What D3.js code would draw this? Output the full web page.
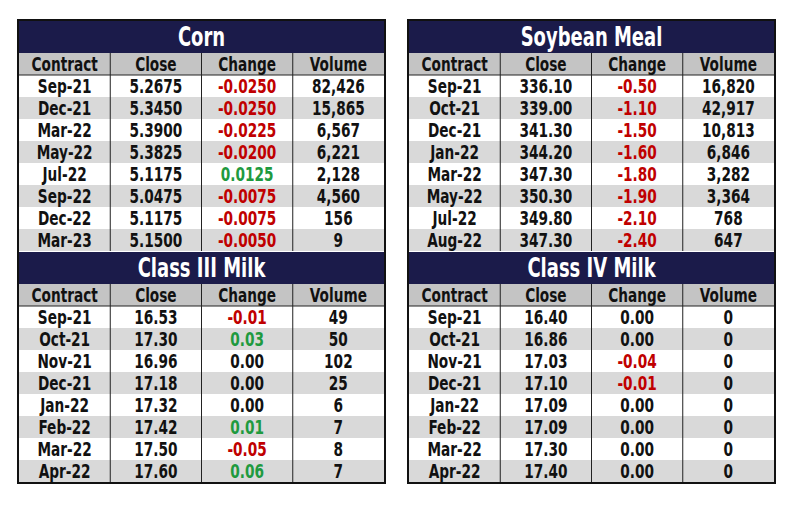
<!DOCTYPE html>
<html><head><meta charset="utf-8">
<script src="https://cdn.jsdelivr.net/npm/d3@7"></script>
<style>body{margin:0;background:#fff}text{font-family:"DejaVu Sans Condensed","DejaVu Sans",sans-serif;font-weight:bold}</style>
</head><body>
<svg width="793" height="505"></svg>
<script>
const columns = ["Contract", "Close", "Change", "Volume"];

const cornContracts = ["Sep-21","Dec-21","Mar-22","May-22","Jul-22","Sep-22","Dec-22","Mar-23"];
const cornClose = ["5.2675","5.3450","5.3900","5.3825","5.1175","5.0475","5.1175","5.1500"];
const cornChange = ["-0.0250","-0.0250","-0.0225","-0.0200","0.0125","-0.0075","-0.0075","-0.0050"];
const cornVolume = ["82,426","15,865","6,567","6,221","2,128","4,560","156","9"];

const soyContracts = ["Sep-21","Oct-21","Dec-21","Jan-22","Mar-22","May-22","Jul-22","Aug-22"];
const soyClose = ["336.10","339.00","341.30","344.20","347.30","350.30","349.80","347.30"];
const soyChange = ["-0.50","-1.10","-1.50","-1.60","-1.80","-1.90","-2.10","-2.40"];
const soyVolume = ["16,820","42,917","10,813","6,846","3,282","3,364","768","647"];

const milk3Contracts = ["Sep-21","Oct-21","Nov-21","Dec-21","Jan-22","Feb-22","Mar-22","Apr-22"];
const milk3Close = ["16.53","17.30","16.96","17.18","17.32","17.42","17.50","17.60"];
const milk3Change = ["-0.01","0.03","0.00","0.00","0.00","0.01","-0.05","0.06"];
const milk3Volume = ["49","50","102","25","6","7","8","7"];

const milk4Contracts = ["Sep-21","Oct-21","Nov-21","Dec-21","Jan-22","Feb-22","Mar-22","Apr-22"];
const milk4Close = ["16.40","16.86","17.03","17.10","17.09","17.09","17.30","17.40"];
const milk4Change = ["0.00","0.00","-0.04","-0.01","0.00","0.00","0.00","0.00"];
const milk4Volume = ["0","0","0","0","0","0","0","0"];

const tables = [
  {title: "Corn", rows: cornContracts.map((c, i) => [c, cornClose[i], cornChange[i], cornVolume[i]]), x: 19, y: 21},
  {title: "Soybean Meal", rows: soyContracts.map((c, i) => [c, soyClose[i], soyChange[i], soyVolume[i]]), x: 409, y: 21},
  {title: "Class III Milk", rows: milk3Contracts.map((c, i) => [c, milk3Close[i], milk3Change[i], milk3Volume[i]]), x: 19, y: 252},
  {title: "Class IV Milk", rows: milk4Contracts.map((c, i) => [c, milk4Close[i], milk4Change[i], milk4Volume[i]]), x: 409, y: 252}
];

const svg = d3.select("svg");
const W = 365, titleH = 32, rowH = 22;
const sx = 0.8; // squeeze glyphs to mimic a condensed face

const x = d3.scaleBand().domain(columns).range([0, W]);
const changeColor = v => +v < 0 ? "#c00000" : (+v > 0 ? "#1f9a3f" : "#111");

tables.forEach(t => {
  const g = svg.append("g").attr("transform", `translate(${t.x},${t.y})`);
  const y = d3.scaleBand().domain(d3.range(t.rows.length + 1)).range([titleH, titleH + rowH * (t.rows.length + 1)]);

  g.append("rect").attr("width", W).attr("height", titleH).attr("fill", "#1b1b4a");
  g.append("text").attr("transform", `translate(${W / 2},${titleH / 2 + 9}) scale(${sx},1.05)`)
    .attr("text-anchor", "middle").attr("fill", "#fff").attr("font-size", 25).text(t.title);

  g.selectAll("rect.row").data(d3.range(t.rows.length + 1)).enter().append("rect")
    .attr("x", 0).attr("y", d => y(d)).attr("width", W).attr("height", rowH)
    .attr("fill", d => d === 0 ? "#c4c4c4" : (d % 2 === 0 ? "#d9d9d9" : "#fff"));

  g.selectAll("line.col").data(columns.slice(1)).enter().append("line")
    .attr("x1", d => x(d)).attr("x2", d => x(d))
    .attr("y1", titleH).attr("y2", y.range()[1])
    .attr("stroke", "#222").attr("stroke-width", 1);

  g.append("line").attr("x1", 0).attr("x2", W).attr("y1", y(1)).attr("y2", y(1)).attr("stroke", "#222");

  const allRows = [columns].concat(t.rows);
  allRows.forEach((r, i) => {
    g.selectAll(null).data(r).enter().append("text")
      .attr("transform", (d, j) => `translate(${x(columns[j]) + x.bandwidth() / 2},${y(i) + rowH / 2 + 7}) scale(${sx},1.05)`)
      .attr("text-anchor", "middle")
      .attr("font-size", 19)
      .attr("fill", (d, j) => i > 0 && j === 2 ? changeColor(d) : "#111")
      .text(d => d);
  });
});

[19, 409].forEach(bx => {
  svg.append("rect").attr("x", bx - 1).attr("y", 20).attr("width", W + 2).attr("height", 463)
    .attr("fill", "none").attr("stroke", "#111").attr("stroke-width", 2);
});
</script>
</body></html>
